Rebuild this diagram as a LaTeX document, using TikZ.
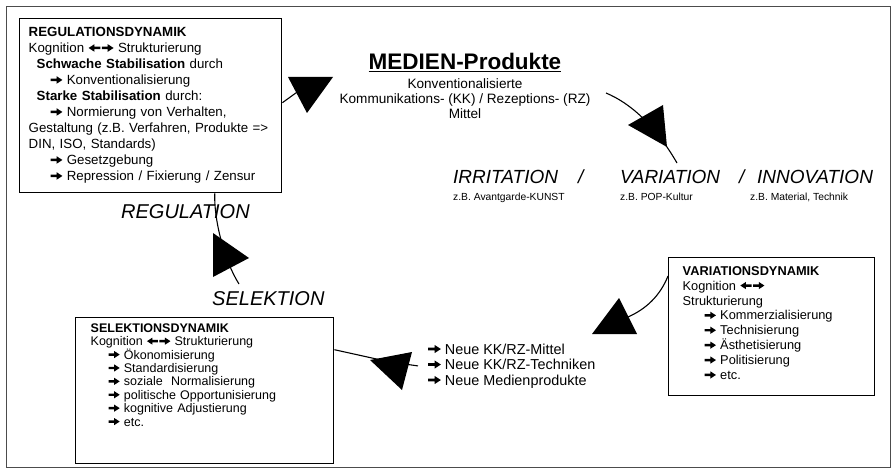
\documentclass[tikz,border=0pt]{standalone}
\usepackage{fontspec}
\setmainfont{Liberation Sans}
\usetikzlibrary{positioning}

% heavy arrows as in the original word list
\newcommand{\wra}{\tikz[x=1em,y=1em,baseline=0pt]\fill (0,0.26)--(0.44,0.26)--(0.44,0.07)--(0.88,0.355)--(0.44,0.64)--(0.44,0.45)--(0,0.45)--cycle;}
\newcommand{\wla}{\tikz[x=-1em,y=1em,baseline=0pt]\fill (0,0.26)--(0.44,0.26)--(0.44,0.07)--(0.88,0.355)--(0.44,0.64)--(0.44,0.45)--(0,0.45)--cycle;}
\newcommand{\wlra}{\wla\kern0.12em\wra}
\newcommand{\regsize}{\fontsize{13.3}{16}\selectfont}
\newcommand{\varsize}{\fontsize{12.8}{14.9}\selectfont}
\newcommand{\selsize}{\fontsize{12.5}{13.4}\selectfont}
\newcommand{\neuesize}{\fontsize{14.4}{15.5}\selectfont}
\newcommand{\subsize}{\fontsize{13.6}{15}\selectfont}
\newcommand{\zbsize}{\fontsize{10.3}{12}\selectfont}
\newcommand{\phasesize}{\fontsize{19}{22}\selectfont}
\newcommand{\cyclesize}{\fontsize{20}{24}\selectfont}

\tikzset{
  dynbox/.style={draw, line width=1.4pt, anchor=north west, align=left, inner ysep=5pt},
  phase/.style={font=\phasesize\itshape, anchor=base west, inner sep=0pt},
  cycle/.style={font=\cyclesize\itshape, anchor=base west, inner sep=0pt},
  zbtext/.style={font=\zbsize, anchor=base west, inner sep=0pt},
  link/.style={line width=1.1pt},
  bighead/.style={fill=black},
}

\begin{document}
\begin{tikzpicture}[x=1pt,y=-1pt]
  \useasboundingbox (0,0) rectangle (896,470);
  \draw[gray!60!black, line width=0.8pt] (6,6) rectangle (890,467);

  % Define nodes
  \node[dynbox, font=\regsize, inner xsep=9pt, text width=244pt, text height=13pt, text depth=151pt] (regbox) at (19,18) {%
    \textbf{REGULATIONSDYNAMIK}\\
    Kognition \wlra\ Strukturierung\\
    \hspace*{8pt}\textbf{Schwache Stabilisation} durch\\
    \hspace*{22pt}\wra\ Konventionalisierung\\
    \hspace*{8pt}\textbf{Starke Stabilisation} durch:\\
    \hspace*{22pt}\wra\ Normierung von Verhalten,\\
    Gestaltung (z.B. Verfahren, Produkte =>\\
    DIN, ISO, Standards)\\
    \hspace*{22pt}\wra\ Gesetzgebung\\
    \hspace*{22pt}\wra\ Repression / Fixierung / Zensur};

  \node[font=\fontsize{22.5}{26}\selectfont\bfseries, anchor=base, inner sep=0pt] (medien) at (465,70) {\underline{MEDIEN-Produkte}};
  \node[font=\subsize, align=center, anchor=north, inner sep=0pt] (medsub) at (465,78.5) {Konventionalisierte\\
    Kommunikations- (KK) / Rezeptions- (RZ)\\ Mittel};

  \node[phase] (irr) at (453,184) {IRRITATION};
  \node[phase] (slA) at (578,184) {/};
  \node[phase] (var) at (620,184) {VARIATION};
  \node[phase] (slB) at (739,184) {/};
  \node[phase] (inn) at (757,184) {INNOVATION};
  \node[zbtext] (irrzb) at (453,201) {z.B. Avantgarde-KUNST};
  \node[zbtext] (varzb) at (620,201) {z.B. POP-Kultur};
  \node[zbtext] (innzb) at (750,201) {z.B. Material, Technik};

  \node[dynbox, font=\varsize, inner xsep=14pt, text width=178pt, text height=12.5pt, text depth=115.5pt] (varbox) at (668,257) {%
    \textbf{VARIATIONSDYNAMIK}\\
    Kognition \wlra\\
    Strukturierung\\
    \hspace*{22pt}\wra\ Kommerzialisierung\\
    \hspace*{22pt}\wra\ Technisierung\\
    \hspace*{22pt}\wra\ Ästhetisierung\\
    \hspace*{22pt}\wra\ Politisierung\\
    \hspace*{22pt}\wra\ etc.};

  \node[font=\neuesize, align=left, anchor=north west, inner sep=0pt] (neue) at (428,343.5) {%
    \wra\ Neue KK/RZ-Mittel\\
    \wra\ Neue KK/RZ-Techniken\\
    \wra\ Neue Medienprodukte};

  \node[dynbox, font=\selsize, inner xsep=15pt, text width=228pt, text height=9.5pt, text depth=126.5pt] (selbox) at (75,317) {%
    \textbf{SELEKTIONSDYNAMIK}\\
    Kognition \wlra\ Strukturierung\\
    \hspace*{18pt}\wra\ Ökonomisierung\\
    \hspace*{18pt}\wra\ Standardisierung\\
    \hspace*{18pt}\wra\ soziale\ \ Normalisierung\\
    \hspace*{18pt}\wra\ politische Opportunisierung\\
    \hspace*{18pt}\wra\ kognitive Adjustierung\\
    \hspace*{18pt}\wra\ etc.};

  \node[cycle] (reglab) at (121,219) {REGULATION};
  \node[cycle] (sellab) at (212,305) {SELEKTION};

  % Connectors
  \draw[link] ([yshift=3pt]regbox.east) -- (300,90);
  \draw[link] (606,93) .. controls (630,103) and (655,125) .. (677,163);
  \draw[link] ([yshift=-19pt]varbox.north west) .. controls (660,296) and (646,309) .. (628,317);
  \draw[link] ([xshift=-10pt]neue.west) -- (390,362) -- ([yshift=41pt]selbox.east);
  \draw[link] (239,284) .. controls (225,262) and (214,222) .. ([xshift=64pt]regbox.south);

  % Arrow heads
  \fill[bighead] (288,77) -- (333,77) -- (307,113) -- cycle;
  \fill[bighead] (663,105) -- (628,125) -- (667,147) -- cycle;
  \fill[bighead] (619,298) -- (592,334) -- (637,334) -- cycle;
  \fill[bighead] (370,360) -- (412,352) -- (402,390) -- cycle;
  \fill[bighead] (213,233) -- (213,277) -- (249,258) -- cycle;
\end{tikzpicture}
\end{document}
